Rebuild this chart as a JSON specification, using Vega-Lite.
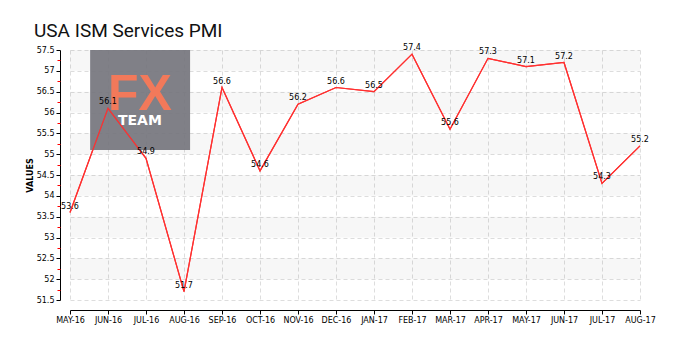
{
  "$schema": "https://vega.github.io/schema/vega-lite/v6.json",
  "width": 570,
  "height": 250,
  "autosize": "none",
  "padding": {"left": 70, "top": 50, "right": 60, "bottom": 50},
  "background": "white",
  "title": {
    "text": "USA ISM Services PMI",
    "anchor": "start",
    "frame": "group",
    "dx": -36,
    "offset": 3,
    "font": "Roboto",
    "fontSize": 19,
    "fontWeight": "normal",
    "color": "#111111"
  },
  "datasets": {
    "pmi": [
      {"month": "MAY-16", "value": 53.6},
      {"month": "JUN-16", "value": 56.1},
      {"month": "JUL-16", "value": 54.9},
      {"month": "AUG-16", "value": 51.7},
      {"month": "SEP-16", "value": 56.6},
      {"month": "OCT-16", "value": 54.6},
      {"month": "NOV-16", "value": 56.2},
      {"month": "DEC-16", "value": 56.6},
      {"month": "JAN-17", "value": 56.5},
      {"month": "FEB-17", "value": 57.4},
      {"month": "MAR-17", "value": 55.6},
      {"month": "APR-17", "value": 57.3},
      {"month": "MAY-17", "value": 57.1},
      {"month": "JUN-17", "value": 57.2},
      {"month": "JUL-17", "value": 54.3},
      {"month": "AUG-17", "value": 55.2}
    ],
    "bands": [
      {"lo": 57, "hi": 57.5},
      {"lo": 56, "hi": 56.5},
      {"lo": 55, "hi": 55.5},
      {"lo": 54, "hi": 54.5},
      {"lo": 53, "hi": 53.5},
      {"lo": 52, "hi": 52.5}
    ],
    "logo": [{"name": "FX TEAM"}]
  },
  "config": {
    "view": {"stroke": null},
    "axis": {
      "labelFont": "DejaVu Sans",
      "labelFontSize": 8,
      "labelColor": "#000000",
      "domainColor": "#000000",
      "gridColor": "#dddddd",
      "gridDash": [4, 3]
    }
  },
  "resolve": {"scale": {"x": "independent"}, "axis": {"x": "independent", "y": "independent"}},
  "layer": [
    {
      "data": {"name": "bands"},
      "mark": {"type": "rect", "fill": "#000000", "opacity": 0.03},
      "encoding": {
        "y": {
          "field": "lo",
          "type": "quantitative",
          "scale": {"domain": [51.5, 57.5], "nice": false, "zero": false},
          "axis": {
            "orient": "left",
            "title": "VALUES",
            "titleFont": "DejaVu Sans",
            "titleFontSize": 8,
            "titleFontWeight": "bold",
            "titleColor": "#000000",
            "titlePadding": 2,
            "values": [51.5, 52, 52.5, 53, 53.5, 54, 54.5, 55, 55.5, 56, 56.5, 57, 57.5],
            "labelExpr": "'' + datum.value",
            "labelOverlap": false,
            "offset": 10,
            "grid": true,
            "tickColor": "#000000",
            "tickSize": 4,
            "labelPadding": 2
          }
        },
        "y2": {"field": "hi"}
      }
    },
    {
      "data": {"name": "pmi"},
      "mark": {"type": "line", "stroke": "#ff3030", "strokeWidth": 1.2},
      "encoding": {
        "x": {
          "field": "month",
          "type": "ordinal",
          "sort": null,
          "scale": {"type": "point", "padding": 0},
          "axis": {
            "title": null,
            "labelAngle": 0,
            "grid": true,
            "offset": 10,
            "tickColor": "#000000",
            "tickSize": 4,
            "labelPadding": 2
          }
        },
        "y": {
          "field": "value",
          "type": "quantitative",
          "axis": {
            "orient": "left",
            "title": null,
            "values": [51.75, 52.25, 52.75, 53.25, 53.75, 54.25, 54.75, 55.25, 55.75, 56.25, 56.75, 57.25],
            "labels": false,
            "domain": false,
            "grid": false,
            "offset": 10,
            "tickColor": "#ff0000",
            "tickSize": 3
          }
        }
      }
    },
    {
      "data": {"name": "logo"},
      "mark": {"type": "rect", "fill": "#76767e", "opacity": 0.93},
      "encoding": {
        "x": {"datum": 0.53, "type": "quantitative", "scale": {"domain": [0, 15], "nice": false, "zero": false}, "axis": null},
        "x2": {"datum": 3.16},
        "y": {"datum": 57.5, "type": "quantitative", "axis": null},
        "y2": {"datum": 55.1}
      }
    },
    {
      "data": {"name": "logo"},
      "mark": {"type": "text", "text": "FX", "font": "Liberation Sans", "fontWeight": "bold", "fontSize": 50, "fill": "#f2795a", "baseline": "middle", "align": "center"},
      "encoding": {
        "x": {"datum": 1.84, "type": "quantitative", "scale": {"domain": [0, 15], "nice": false, "zero": false}, "axis": null},
        "y": {"datum": 56.42, "type": "quantitative", "axis": null}
      }
    },
    {
      "data": {"name": "logo"},
      "mark": {"type": "text", "text": "TEAM", "font": "DejaVu Sans", "fontWeight": "bold", "fontSize": 14, "fill": "#ffffff", "baseline": "middle", "align": "center"},
      "encoding": {
        "x": {"datum": 1.84, "type": "quantitative", "scale": {"domain": [0, 15], "nice": false, "zero": false}, "axis": null},
        "y": {"datum": 55.8, "type": "quantitative", "axis": null}
      }
    },
    {
      "data": {"name": "pmi"},
      "mark": {"type": "line", "stroke": "#ff3030", "strokeWidth": 1.2},
      "encoding": {
        "x": {"field": "month", "type": "ordinal", "sort": null, "scale": {"type": "point", "padding": 0}, "axis": null},
        "y": {"field": "value", "type": "quantitative", "axis": null}
      }
    },
    {
      "data": {"name": "pmi"},
      "mark": {"type": "text", "font": "DejaVu Sans", "fontSize": 8, "fill": "#000000", "baseline": "middle", "align": "center", "dy": -6},
      "encoding": {
        "x": {"field": "month", "type": "ordinal", "sort": null, "scale": {"type": "point", "padding": 0}, "axis": null},
        "y": {"field": "value", "type": "quantitative", "axis": null},
        "text": {"field": "value", "type": "quantitative", "format": ".1f"}
      }
    }
  ]
}
